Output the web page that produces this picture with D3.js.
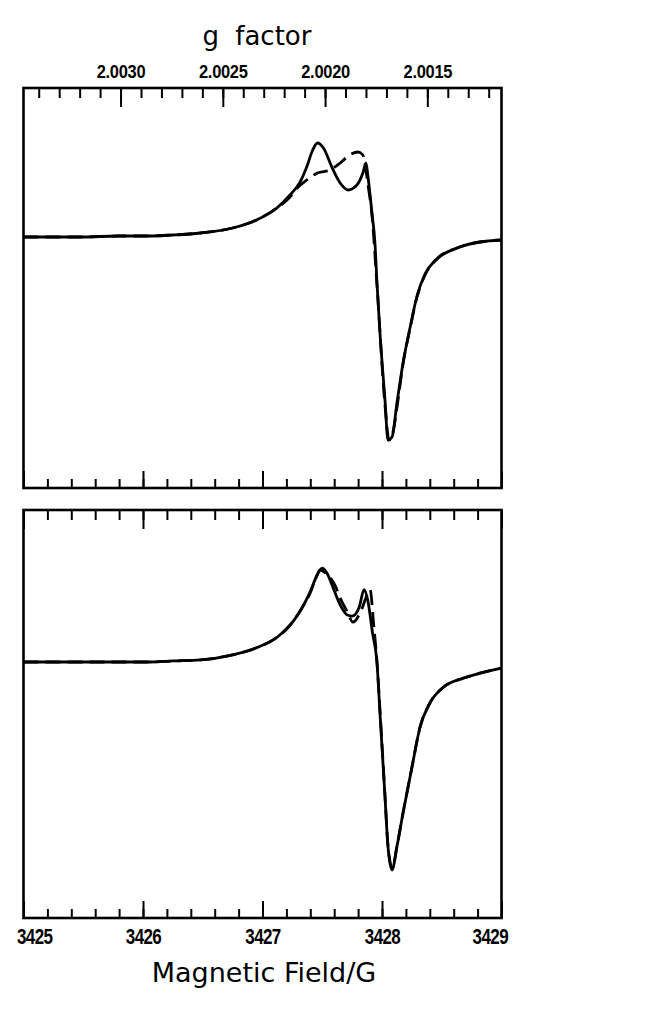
<!DOCTYPE html>
<html>
<head>
<meta charset="utf-8">
<script src="https://cdn.jsdelivr.net/npm/d3@7"></script>
<style>
  body { margin: 0; background: #fff; }
  svg { display: block; }
  .axis path { display: none; }
  .axis line { stroke: #000; stroke-width: 2; }
  .axis text { font-family: 'Liberation Sans', Arial, sans-serif; font-weight: bold; fill: #000; }
  .title { font-family: 'DejaVu Sans', sans-serif; fill: #000; }
</style>
</head>
<body>
<div id="chart"></div>
<script>
// field axis (G)
const fieldMajor = [3425, 3426, 3427, 3428, 3429]
const fieldMinor = d3.range(3425, 3429.001, 0.2).map(v => Math.round(v * 10) / 10)
// g factor axis: g = gConst / B
const gConst = 6861.9
const gMajor = [2.0030, 2.0025, 2.0020, 2.0015]
const gMinor = d3.range(20012, 20035).map(v => v / 10000)

// [field G, signal]
const topSolid = [
  [3425.00, 0.01], [3425.47, 0.01], [3425.80, 0.02], [3426.06, 0.02], [3426.25, 0.03],
  [3426.48, 0.05], [3426.75, 0.10], [3426.95, 0.18], [3427.12, 0.30], [3427.23, 0.43],
  [3427.31, 0.55], [3427.37, 0.71], [3427.42, 0.88], [3427.46, 0.95], [3427.51, 0.90],
  [3427.58, 0.71], [3427.65, 0.55], [3427.715, 0.48], [3427.79, 0.53], [3427.84, 0.65],
  [3427.866, 0.75], [3427.883, 0.61], [3427.916, 0.25], [3427.941, -0.05], [3427.958, -0.45],
  [3427.983, -0.95], [3428.025, -1.62], [3428.05, -2.02], [3428.084, -1.99], [3428.125, -1.65],
  [3428.176, -1.25], [3428.234, -0.90], [3428.293, -0.58], [3428.36, -0.36], [3428.45, -0.22],
  [3428.628, -0.10], [3428.82, -0.04], [3429.00, -0.02]
]
const topDashed = [
  [3425.00, 0.01], [3425.47, 0.01], [3425.80, 0.02], [3426.06, 0.02], [3426.25, 0.03],
  [3426.48, 0.05], [3426.75, 0.10], [3426.95, 0.18], [3427.12, 0.30], [3427.23, 0.41],
  [3427.29, 0.50], [3427.37, 0.58], [3427.46, 0.65], [3427.565, 0.68], [3427.65, 0.75],
  [3427.73, 0.83], [3427.80, 0.86], [3427.84, 0.83], [3427.883, 0.53], [3427.916, 0.23],
  [3427.958, -0.47], [3428.025, -1.67], [3428.059, -2.02], [3428.092, -1.94], [3428.134, -1.62],
  [3428.176, -1.26], [3428.234, -0.91], [3428.293, -0.59], [3428.36, -0.37], [3428.45, -0.22],
  [3428.628, -0.10], [3428.82, -0.04], [3429.00, -0.02]
]
const bottomSolid = [
  [3425.00, 0.01], [3425.47, 0.01], [3425.80, 0.01], [3426.06, 0.01], [3426.25, 0.02],
  [3426.48, 0.03], [3426.75, 0.08], [3426.95, 0.15], [3427.12, 0.25], [3427.23, 0.37],
  [3427.31, 0.50], [3427.40, 0.70], [3427.456, 0.86], [3427.50, 0.93], [3427.54, 0.88],
  [3427.59, 0.74], [3427.65, 0.57], [3427.71, 0.47], [3427.75, 0.46], [3427.81, 0.55],
  [3427.85, 0.72], [3427.88, 0.62], [3427.92, 0.30], [3427.958, 0.0], [3427.983, -0.49],
  [3428.025, -1.31], [3428.05, -1.80], [3428.084, -2.03], [3428.125, -1.80], [3428.176, -1.47],
  [3428.251, -1.02], [3428.318, -0.63], [3428.402, -0.39], [3428.511, -0.24], [3428.678, -0.15],
  [3428.82, -0.10], [3429.00, -0.05]
]
const bottomDashed = [
  [3425.00, 0.01], [3425.47, 0.01], [3425.80, 0.01], [3426.06, 0.01], [3426.25, 0.02],
  [3426.48, 0.03], [3426.75, 0.08], [3426.95, 0.15], [3427.12, 0.25], [3427.23, 0.37],
  [3427.31, 0.50], [3427.40, 0.69], [3427.45, 0.84], [3427.48, 0.91], [3427.53, 0.88],
  [3427.607, 0.76], [3427.649, 0.64], [3427.71, 0.50], [3427.757, 0.40], [3427.82, 0.50],
  [3427.88, 0.68], [3427.90, 0.72], [3427.93, 0.38], [3427.96, -0.02], [3427.985, -0.50],
  [3428.025, -1.30], [3428.05, -1.79], [3428.086, -2.01], [3428.125, -1.80], [3428.176, -1.47],
  [3428.251, -1.02], [3428.318, -0.63], [3428.402, -0.39], [3428.511, -0.24], [3428.678, -0.15],
  [3428.82, -0.10], [3429.00, -0.05]
]

const width = 666, height = 1012
const left = 23.5, right = 501.5
const panels = [
  { top: 88, bottom: 488, solid: topSolid, dashed: topDashed },
  { top: 510, bottom: 918, solid: bottomSolid, dashed: bottomDashed }
]

const svg = d3.select('#chart')
  .append('svg')
  .attr('width', width)
  .attr('height', height)

const x = d3.scaleLinear().domain([3425, 3429]).range([left, right])
const gScale = d3.scaleLinear().domain([gConst / 3425, gConst / 3429]).range([left, right])

panels.forEach((p, idx) => {
  const y = d3.scaleLinear().domain([-2.5, 1.5]).range([p.bottom, p.top])
  const line = d3.line()
    .x(d => x(d[0]))
    .y(d => y(d[1]))
    .curve(d3.curveMonotoneX)

  // bottom edge ticks (field), pointing inward
  svg.append('g')
    .attr('class', 'axis')
    .attr('transform', 'translate(0,' + p.bottom + ')')
    .call(d3.axisBottom(x).tickValues(fieldMinor).tickSize(-9).tickFormat(''))
  svg.append('g')
    .attr('class', 'axis')
    .attr('transform', 'translate(0,' + p.bottom + ')')
    .call(d3.axisBottom(x).tickValues(fieldMajor).tickSize(-17).tickFormat(''))

  if (idx === 0) {
    // g factor on top
    svg.append('g')
      .attr('class', 'axis')
      .attr('transform', 'translate(0,' + p.top + ')')
      .call(d3.axisTop(gScale).tickValues(gMinor).tickSize(-10).tickFormat(''))
    svg.append('g')
      .attr('class', 'axis')
      .attr('transform', 'translate(0,' + p.top + ')')
      .call(d3.axisTop(gScale).tickValues(gMajor).tickSize(-19).tickPadding(9).tickFormat(d3.format('.4f')))
      .selectAll('text')
      .attr('font-size', 16.5)
      .attr('letter-spacing', '-0.3px')
      .attr('transform', 'scale(1,1.12)')
  } else {
    svg.append('g')
      .attr('class', 'axis')
      .attr('transform', 'translate(0,' + p.top + ')')
      .call(d3.axisTop(x).tickValues(fieldMinor).tickSize(-10).tickFormat(''))
    svg.append('g')
      .attr('class', 'axis')
      .attr('transform', 'translate(0,' + p.top + ')')
      .call(d3.axisTop(x).tickValues(fieldMajor).tickSize(-19).tickFormat(''))

    const bottomAxis = svg.append('g')
      .attr('class', 'axis')
      .attr('transform', 'translate(0,' + p.bottom + ')')
      .call(d3.axisBottom(x).tickValues(fieldMajor).tickSize(0).tickPadding(7).tickFormat(d3.format('d')))
    bottomAxis.selectAll('text')
      .attr('font-size', 17)
      .attr('letter-spacing', '-0.6px')
      .attr('transform', 'scale(1,1.35)')
      .attr('text-anchor', (d, i) => i === 0 ? 'start' : (i === fieldMajor.length - 1 ? 'end' : 'middle'))
      .attr('x', (d, i) => i === 0 ? -7 : (i === fieldMajor.length - 1 ? 6 : 0))
  }

  svg.append('path')
    .datum(p.dashed)
    .attr('fill', 'none')
    .attr('stroke', '#000')
    .attr('stroke-width', 2.8)
    .attr('stroke-dasharray', '15,7')
    .attr('d', line)

  svg.append('path')
    .datum(p.solid)
    .attr('fill', 'none')
    .attr('stroke', '#000')
    .attr('stroke-width', 2.8)
    .attr('stroke-linejoin', 'round')
    .attr('d', line)

  svg.append('rect')
    .attr('x', left)
    .attr('y', p.top)
    .attr('width', right - left)
    .attr('height', p.bottom - p.top)
    .attr('fill', 'none')
    .attr('stroke', '#000')
    .attr('stroke-width', 2.6)
})

svg.append('text')
  .attr('class', 'title')
  .attr('x', 257)
  .attr('y', 45)
  .attr('text-anchor', 'middle')
  .attr('font-size', 26)
  .attr('word-spacing', '8px')
  .text('g factor')

svg.append('text')
  .attr('class', 'title')
  .attr('x', 264)
  .attr('y', 982)
  .attr('text-anchor', 'middle')
  .attr('font-size', 27)
  .text('Magnetic Field/G')
</script>
</body>
</html>
